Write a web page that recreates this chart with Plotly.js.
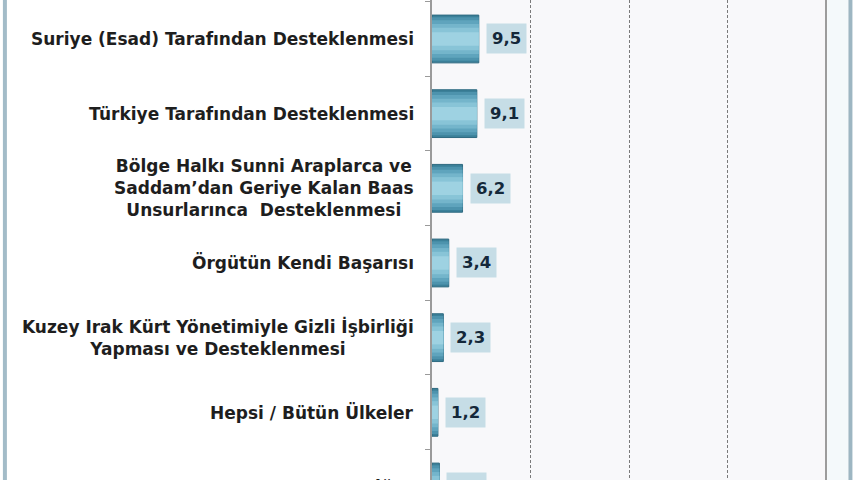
<!DOCTYPE html>
<html>
<head>
<meta charset="utf-8">
<script src="https://cdn.plot.ly/plotly-3.0.1.min.js"></script>
<style>
  html, body { margin: 0; padding: 0; background: #fff; overflow: hidden; }
  #wrap { width: 860px; height: 480px; overflow: hidden; }
  #chart { width: 860px; height: 520px; }
</style>
</head>
<body>
<div id="wrap"><div id="chart"></div></div>
<script>
// categories top to bottom (the picture is a crop, "Diğer" is cut at the bottom)
var categories = [
  'Suriye (Esad) Tarafından Desteklenmesi',
  'Türkiye Tarafından Desteklenmesi',
  'Bölge Halkı Sunni Araplarca ve<br>Saddam\u2019dan Geriye Kalan Baas<br>Unsurlarınca  Desteklenmesi',
  'Örgütün Kendi Başarısı',
  'Kuzey Irak Kürt Yönetimiyle Gizli İşbirliği<br>Yapması ve Desteklenmesi',
  'Hepsi / Bütün Ülkeler',
  'Diğer'
];
var values = [9.5, 9.1, 6.2, 3.4, 2.3, 1.2, 1.5];

var labelFont = 'DejaVu Sans, sans-serif';

function fmt(v) { return v.toFixed(1).replace('.', ','); }

// bars: layered to fake the cylinder shading (dark edges, light middle)
var layers = [
  { width: 0.64, color: '#3b8099' },
  { width: 0.58, color: '#4d93ad' },
  { width: 0.50, color: '#5fa4bd' },
  { width: 0.40, color: '#74b5cb' },
  { width: 0.30, color: '#88c4d7' },
  { width: 0.18, color: '#9ed2e2' }
];
var data = layers.map(function (l, k) {
  return {
    type: 'bar',
    orientation: 'h',
    y: categories,
    x: values,
    width: l.width,
    marker: { color: l.color, line: { color: k === 0 ? '#2e6a80' : 'rgba(0,0,0,0)', width: 1 } },
    hoverinfo: 'skip',
    showlegend: false
  };
});

var annotations = [];
categories.forEach(function (c, i) {
  // category label
  annotations.push({
    xref: 'paper', yref: 'y',
    x: 0, y: c,
    xanchor: 'right', yanchor: 'middle',
    xshift: -16,
    align: 'center',
    showarrow: false,
    text: '<b>' + c + '</b>',
    font: { family: labelFont, size: 17, color: '#1e1e1e' }
  });
  // value box
  annotations.push({
    xref: 'x', yref: 'y',
    x: values[i], y: c,
    xanchor: 'left', yanchor: 'middle',
    xshift: 7,
    showarrow: false,
    text: '<b>' + fmt(values[i]) + '</b>',
    bgcolor: '#c6dde6',
    borderpad: 5,
    font: { family: labelFont, size: 16.5, color: '#14283a' }
  });
});

var layout = {
  width: 860,
  height: 520,
  margin: { l: 432, r: 34, t: 0, b: 0, pad: 0 },
  paper_bgcolor: '#ffffff',
  plot_bgcolor: '#f8f8fa',
  barmode: 'overlay',
  xaxis: {
    range: [0, 80],
    dtick: 20,
    showgrid: true,
    gridcolor: '#7a7a7a',
    gridwidth: 1,
    griddash: '3px,2px',
    zeroline: false,
    showticklabels: false,
    fixedrange: true
  },
  yaxis: {
    type: 'category',
    categoryorder: 'array',
    categoryarray: categories,
    range: [6.442, -0.522],
    showticklabels: false,
    showgrid: false,
    showline: true,
    linecolor: '#9a9a9a',
    linewidth: 2,
    ticks: 'outside',
    tickson: 'boundaries',
    ticklen: 5,
    tickcolor: '#9a9a9a',
    fixedrange: true
  },
  shapes: [
    // right edge of plot area
    { type: 'line', xref: 'paper', yref: 'paper', x0: 1, x1: 1, y0: 0, y1: 1,
      line: { color: '#9c9c9c', width: 2 } },
    // light strip outside the plot
    { type: 'rect', xref: 'paper', yref: 'paper', x0: 1.003, x1: 1.056, y0: 0, y1: 1,
      fillcolor: '#f4f9fb', line: { width: 0 } },
    // outer frame, right
    { type: 'line', xref: 'paper', yref: 'paper', x0: 1.062, x1: 1.062, y0: 0, y1: 1,
      line: { color: '#9db6c2', width: 4 } },
    // outer frame, left
    { type: 'line', xref: 'paper', yref: 'paper', x0: -1.084, x1: -1.084, y0: 0, y1: 1,
      line: { color: '#a3bcc8', width: 4 } }
  ],
  annotations: annotations
};

Plotly.newPlot('chart', data, layout, { displayModeBar: false, staticPlot: true });
</script>
</body>
</html>
